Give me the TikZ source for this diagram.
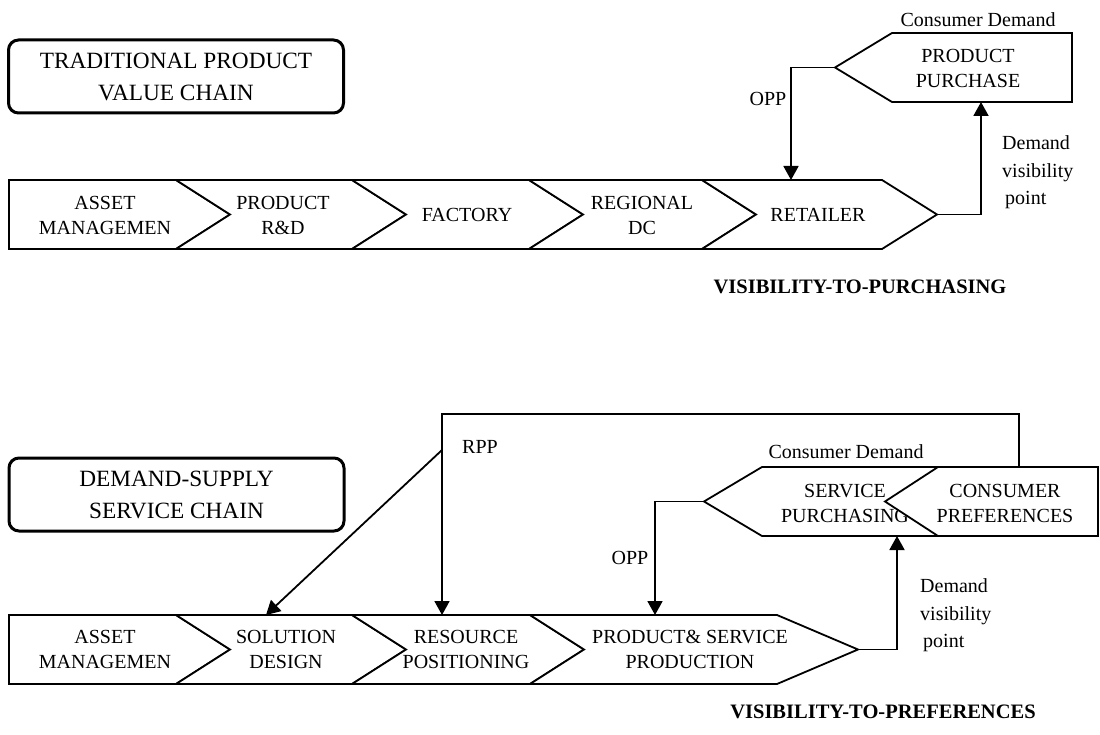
\documentclass[tikz,border=0pt]{standalone}
\usepackage{fontspec}
\setmainfont{Liberation Serif}
\usetikzlibrary{arrows.meta}
\begin{document}
\begin{tikzpicture}[x=1pt,y=-1pt,
  shapeline/.style={draw=black, line width=1.8pt, fill=white, line join=miter},
  lbl/.style={font=\fontsize{20}{25}\selectfont, align=center, inner sep=0pt},
  titlebox/.style={draw=black, line width=3pt, rounded corners=10pt, align=center,
    font=\fontsize{23.3}{32}\selectfont, minimum width=335pt, minimum height=73pt, inner sep=0pt},
  conn/.style={line width=1.8pt, -{Triangle[length=14pt,width=15pt]}},
  boldlbl/.style={font=\fontsize{20.5}{24}\selectfont\bfseries, inner sep=0pt},
  dvp/.style={font=\fontsize{20}{27.5}\selectfont, align=left, inner sep=0pt, anchor=west}
]
\useasboundingbox (0,0) rectangle (1100,735);

% ---------------- TOP: traditional product value chain
\node[titlebox] (t1) at (176,76.5) {TRADITIONAL PRODUCT\\VALUE CHAIN};

\draw[shapeline] (9,180) -- (176,180) -- (230,214.5) -- (176,249) -- (9,249) -- cycle;
\draw[shapeline] (176,180) -- (352,180) -- (406,214.5) -- (352,249) -- (176,249) -- (230,214.5) -- cycle;
\draw[shapeline] (352,180) -- (529,180) -- (583,214.5) -- (529,249) -- (352,249) -- (406,214.5) -- cycle;
\draw[shapeline] (529,180) -- (702,180) -- (756,214.5) -- (702,249) -- (529,249) -- (583,214.5) -- cycle;
\draw[shapeline] (702,180) -- (882,180) -- (937,214.5) -- (882,249) -- (702,249) -- (756,214.5) -- cycle;

\node[lbl] (am1) at (105,215) {ASSET\\MANAGEMEN};
\node[lbl] (prd) at (283,215) {PRODUCT\\R\&D};
\node[lbl] (fac) at (467,215) {FACTORY};
\node[lbl] (reg) at (642,215) {REGIONAL\\DC};
\node[lbl] (ret) at (818,215) {RETAILER};

\draw[shapeline] (835,67.5) -- (892,33) -- (1072,33) -- (1072,102) -- (892,102) -- cycle;
\node[lbl] (pp) at (968,68) {PRODUCT\\PURCHASE};
\node[lbl] (cd1) at (978,20) {Consumer Demand};

\coordinate (pptip) at (835,67.5);
\coordinate (rettop) at (791,180);
\coordinate (rettip) at (937,214.5);
\coordinate (ppbot) at (981,102);
\draw[conn] (pptip) -| (rettop);
\draw[conn] (rettip) -| (ppbot);
\node[lbl] (opp1) at (768,99) {OPP};
\node[dvp] (dv1) at (1002,172.5) {Demand\\visibility\\\hspace*{3pt}point};
\node[boldlbl] (vp) at (860,287) {VISIBILITY-TO-PURCHASING};

% ---------------- BOTTOM: demand-supply service chain
\node[titlebox] (t2) at (176.5,494.5) {DEMAND-SUPPLY\\SERVICE CHAIN};

\draw[shapeline] (9,615) -- (176,615) -- (230,649.5) -- (176,684) -- (9,684) -- cycle;
\draw[shapeline] (176,615) -- (352,615) -- (406,649.5) -- (352,684) -- (176,684) -- (230,649.5) -- cycle;
\draw[shapeline] (352,615) -- (530,615) -- (584,649.5) -- (530,684) -- (352,684) -- (406,649.5) -- cycle;
\draw[shapeline] (530,615) -- (777,615) -- (858,649.5) -- (777,684) -- (530,684) -- (584,649.5) -- cycle;

\node[lbl] (am2) at (105,649.5) {ASSET\\MANAGEMEN};
\node[lbl] (sol) at (286,649.5) {SOLUTION\\DESIGN};
\node[lbl] (res) at (466,649.5) {RESOURCE\\POSITIONING};
\node[lbl] (psp) at (690,649.5) {PRODUCT\&\ SERVICE\\PRODUCTION};

\draw[shapeline] (704,501.5) -- (762,467) -- (990,467) -- (990,536) -- (762,536) -- cycle;
\node[lbl] (sp) at (845,503.5) {SERVICE\\PURCHASING};
\draw[shapeline] (885,501.5) -- (938,467) -- (1098,467) -- (1098,536) -- (938,536) -- cycle;
\node[lbl] (cp) at (1005,503) {CONSUMER\\PREFERENCES};
\node[lbl] (cd2) at (846,452) {Consumer Demand};

\coordinate (sptip) at (704,501.5);
\coordinate (pstop) at (655,615);
\coordinate (pstip) at (858,649.5);
\coordinate (spbot) at (897,536);
\coordinate (cptop) at (1019,467);
\coordinate (rppcorner) at (442,414);
\coordinate (restop) at (442,615);
\coordinate (rppbranch) at (442,450);
\coordinate (soltop) at (266,615);
\draw[conn] (sptip) -| (pstop);
\draw[conn] (pstip) -| (spbot);
\draw[conn] (cptop) |- (rppcorner) -- (restop);
\draw[conn] (rppbranch) -- (soltop);
\node[lbl] (opp2) at (630,558) {OPP};
\node[lbl] (rpp) at (480,447) {RPP};
\node[dvp] (dv2) at (920,615.5) {Demand\\visibility\\\hspace*{3pt}point};
\node[boldlbl] (vpref) at (883,712) {VISIBILITY-TO-PREFERENCES};
\end{tikzpicture}
\end{document}
